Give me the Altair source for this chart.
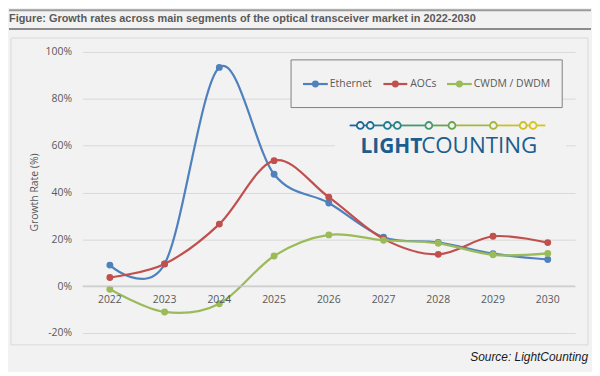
import altair as alt
import pandas as pd

# ---------------- data ----------------
years = ["2022", "2023", "2024", "2025", "2026", "2027", "2028", "2029", "2030"]
ethernet = [9.0, 9.5, 93.4, 47.8, 35.5, 20.9, 18.7, 13.9, 11.4]
aocs = [3.7, 9.5, 26.5, 53.6, 38.0, 20.2, 13.6, 21.3, 18.6]
cwdm = [-1.3, -11.0, -7.5, 12.9, 21.9, 19.6, 18.3, 13.4, 14.0]
series_names = ["Ethernet", "AOCs", "CWDM / DWDM"]
series_values = [ethernet, aocs, cwdm]
series_colors = ["#4f81bd", "#c0504d", "#9bbb59"]
y_ticks = [-20, 0, 20, 40, 60, 80, 100]

title_text = "Figure: Growth rates across main segments of the optical transceiver market in 2022-2030"
source_text = "Source: LightCounting"
y_title = "Growth Rate (%)"
logo_bold = "LIGHT"
logo_regular = "COUNTING"

rows = []
for name, vals in zip(series_names, series_values):
    for yr, v in zip(years, vals):
        rows.append({"year": yr, "series": name, "value": v})
df = pd.DataFrame(rows)
year_df = pd.DataFrame({"year": years})

# ---------------- styles ----------------
FONT = "Open Sans"
LABEL = "#595959"
BG = "#f2f2f2"
W, H = 496, 283


def one():
    return alt.Chart(alt.Data(values=[{"k": 0}]))


x_scale = alt.Scale(type="point", padding=0.5)
y_scale = alt.Scale(domain=[-20, 100], nice=False, zero=False)
x_enc = alt.X("year:O", scale=x_scale, axis=None)
y_axis = alt.Axis(
    values=y_ticks, labelExpr="datum.value + '%'", grid=True, gridColor="#d9d9d9",
    gridWidth=1, domain=False, ticks=False, tickSize=0, labelPadding=11,
    labelFont=FONT, labelFontSize=10.5, labelColor=LABEL,
    title=y_title, titleX=-48, titleY=141, titleAngle=270, titleAlign="center",
    titleBaseline="middle", titleFont=FONT, titleFontSize=10.5,
    titleFontWeight="normal", titleColor=LABEL,
)
y_enc = alt.Y("value:Q", scale=y_scale, axis=y_axis)

layers = []

# header lines and title
layers.append(one().mark_rule(color="#9a9a9a", strokeWidth=2).encode(
    x=alt.value(-74), x2=alt.value(512), y=alt.value(-42)))
layers.append(one().mark_text(align="left", baseline="alphabetic", font="Liberation Sans",
                              fontSize=11, fontWeight="bold", color="#5a5a5a").encode(
    x=alt.value(-74), y=alt.value(-30), text=alt.value(title_text)))
layers.append(one().mark_rule(color="#8c8c8c", strokeWidth=2).encode(
    x=alt.value(-74), x2=alt.value(512), y=alt.value(-23)))
# chart box
layers.append(one().mark_rect(fillOpacity=0, stroke="#d9d9d9", strokeWidth=1).encode(
    x=alt.value(-72), x2=alt.value(509), y=alt.value(-14), y2=alt.value(295)))

# series
for name, color in zip(series_names, series_colors):
    base = alt.Chart(df).transform_filter(alt.datum.series == name)
    layers.append(base.mark_line(color=color, strokeWidth=2.2, interpolate="cardinal").encode(
        x=x_enc, y=y_enc))
    layers.append(base.mark_circle(color=color, size=48, opacity=1).encode(
        x=x_enc, y=y_enc))

# zero line (horizontal axis line)
layers.append(one().mark_rule(color="#c8c8c8", strokeWidth=1.4).encode(
    y=alt.YDatum(0, scale=y_scale, axis=y_axis)))

# year labels along the zero line
layers.append(alt.Chart(year_df).mark_text(dy=14, font=FONT, fontSize=10.5, color=LABEL).encode(
    x=x_enc, y=alt.YDatum(0, scale=y_scale, axis=y_axis), text="year:N"))

# legend box
layers.append(one().mark_rect(fill=BG, stroke="#7f7f7f", strokeWidth=1).encode(
    x=alt.value(210), x2=alt.value(483), y=alt.value(8), y2=alt.value(56)))
leg_pos = [(222, 247, 234.5, 249), (303, 327, 315, 330), (367, 392, 379.5, 394)]
LEG_Y = 32.3
for name, color, (x0, x1, cx, tx) in zip(series_names, series_colors, leg_pos):
    layers.append(one().mark_rule(color=color, strokeWidth=2.2).encode(
        x=alt.value(x0), x2=alt.value(x1), y=alt.value(LEG_Y)))
    layers.append(one().mark_circle(color=color, size=48, opacity=1).encode(
        x=alt.value(cx), y=alt.value(LEG_Y)))
    layers.append(one().mark_text(align="left", baseline="middle", font=FONT, fontSize=10.5,
                                  color=LABEL).encode(
        x=alt.value(tx), y=alt.value(LEG_Y), text=alt.value(name)))

# logo
layers.append(one().mark_rect(fill=BG).encode(
    x=alt.value(254), x2=alt.value(487), y=alt.value(61), y2=alt.value(107)))
logo_cx = [279.7, 289.7, 307, 317, 348.7, 372, 413.7, 443.7, 453.7]
logo_cols = ["#1b6899", "#1d6f96", "#227b91", "#29858a", "#46976d", "#66a450",
             "#a5b63c", "#cdbf28", "#d8c41f"]
LOGO_Y = 74
pts = [269] + logo_cx + [466]
seg_cols = [logo_cols[0]] + logo_cols[1:] + [logo_cols[-1]]
for j in range(len(pts) - 1):
    layers.append(one().mark_rule(color=seg_cols[j], strokeWidth=1.8).encode(
        x=alt.value(pts[j]), x2=alt.value(pts[j + 1]), y=alt.value(LOGO_Y)))
for cx, c in zip(logo_cx, logo_cols):
    layers.append(one().mark_circle(fill=BG, stroke=c, strokeWidth=1.8, size=48, opacity=1).encode(
        x=alt.value(cx), y=alt.value(LOGO_Y)))
layers.append(one().mark_text(align="left", baseline="alphabetic", font=FONT, fontSize=21,
                              fontWeight="bold", color="#1c5d8e").encode(
    x=alt.value(280), y=alt.value(101.5), text=alt.value(logo_bold)))
layers.append(one().mark_text(align="left", baseline="alphabetic", font=FONT, fontSize=22.5,
                              fontWeight="normal", color="#1c5d8e").encode(
    x=alt.value(341), y=alt.value(101.5), text=alt.value(logo_regular)))

# source
layers.append(one().mark_text(align="right", baseline="alphabetic", font="Liberation Sans",
                              fontSize=12, fontStyle="italic", color="#1a1a1a").encode(
    x=alt.value(509), y=alt.value(311), text=alt.value(source_text)))

chart = alt.layer(*layers).properties(
    width=W, height=H, background=BG,
    padding={"left": 75, "top": 43, "right": 17, "bottom": 38},
    autosize=alt.AutoSizeParams(type="none"),
).configure_view(stroke=None)

chart.save("out.html", embed_options={"renderer": "svg", "actions": False})
